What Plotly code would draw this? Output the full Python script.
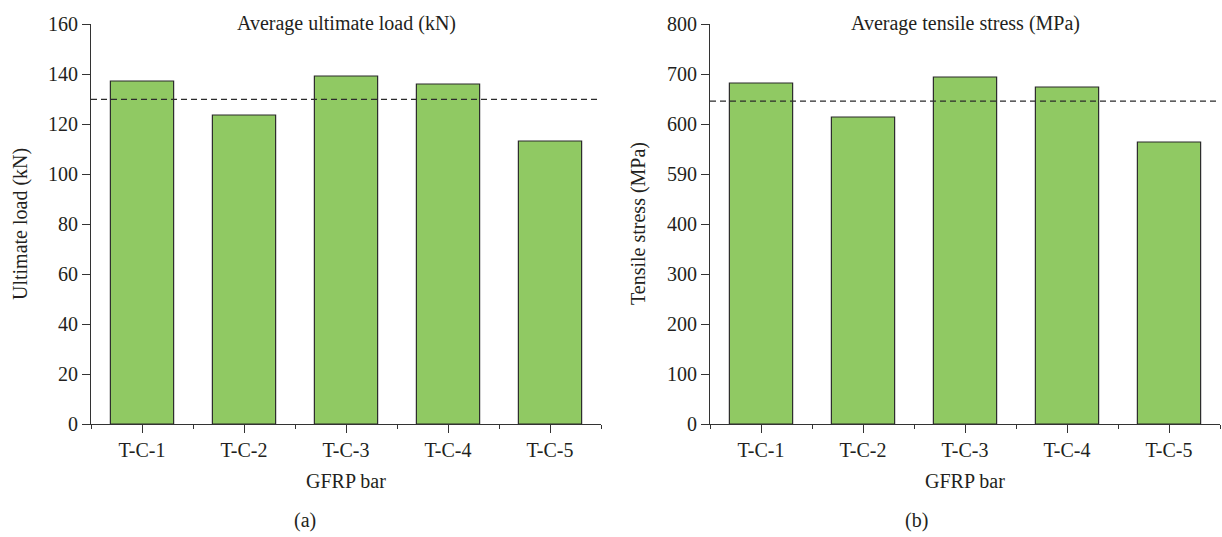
import plotly.graph_objects as go

categories = ["T-C-1", "T-C-2", "T-C-3", "T-C-4", "T-C-5"]
ultimate_load = [137.2, 123.6, 139.2, 136.0, 113.2]
tensile_stress = [682, 614, 694, 674, 564]

load_ticks = [0, 20, 40, 60, 80, 100, 120, 140, 160]
load_ticktext = ["0", "20", "40", "60", "80", "100", "120", "140", "160"]
stress_ticks = [0, 100, 200, 300, 400, 500, 600, 700, 800]
stress_ticktext = ["0", "100", "200", "300", "400", "590", "600", "700", "800"]

titles = ["Average ultimate load (kN)", "Average tensile stress (MPa)"]
ytitles = ["Ultimate load (kN)", "Tensile stress (MPa)"]
xtitle = "GFRP bar"
panel_labels = ["(a)", "(b)"]

W, H = 1222, 537
FONT = "Liberation Serif"
FS = 20
TXT = "#231f20"
BAR = "#90c963"

xpos = list(range(len(categories)))
fig = go.Figure()

panels = [
    dict(vals=ultimate_load, ticks=load_ticks, tt=load_ticktext, rng=[0, 160],
         px=(91, 601), ytx=20, lab=305),
    dict(vals=tensile_stress, ticks=stress_ticks, tt=stress_ticktext, rng=[0, 800],
         px=(710, 1220), ytx=638, lab=916),
]

ytop, ybot = 24, 424
ydom = [(H - ybot) / H, (H - ytop) / H]

for i, p in enumerate(panels):
    xa = "x" if i == 0 else "x2"
    ya = "y" if i == 0 else "y2"
    fig.add_trace(go.Bar(
        x=xpos, y=p["vals"], xaxis=xa, yaxis=ya, width=0.62,
        marker=dict(color=BAR, line=dict(color="#2b2b2b", width=1.2)),
        showlegend=False, hoverinfo="x+y",
    ))
    mean = sum(p["vals"]) / len(p["vals"])
    fig.add_shape(type="line", xref=f"{xa} domain", yref=ya, x0=0, x1=1,
                  y0=mean, y1=mean, line=dict(color="#2b2b2b", width=1.3, dash="6px,4px"))
    axkey = "xaxis" if i == 0 else "xaxis2"
    aykey = "yaxis" if i == 0 else "yaxis2"
    xdom = [p["px"][0] / W, p["px"][1] / W]
    fig.update_layout({
        axkey: dict(
            domain=xdom, anchor=ya, range=[-0.5, len(categories) - 0.5],
            tickmode="array", tickvals=xpos, ticktext=categories,
            ticks="outside", ticklen=8, tickcolor="#333", tickwidth=1,
            showline=True, linecolor="#333", linewidth=1.2,
            showgrid=False, zeroline=False, fixedrange=True, automargin=False,
            tickfont=dict(family=FONT, size=FS, color=TXT),
            minor=dict(tickmode="array",
                       tickvals=[x - 0.5 for x in xpos] + [len(categories) - 0.5],
                       ticks="outside", ticklen=4, tickcolor="#333", tickwidth=1),
        ),
        aykey: dict(
            domain=ydom, anchor=xa, range=p["rng"],
            tickmode="array", tickvals=p["ticks"], ticktext=p["tt"],
            ticks="outside", ticklen=8, tickcolor="#333", tickwidth=1,
            showline=True, linecolor="#333", linewidth=1.2,
            showgrid=False, zeroline=False, fixedrange=True, automargin=False,
            tickfont=dict(family=FONT, size=FS, color=TXT),
        ),
    })
    cx = (p["px"][0] + p["px"][1]) / 2 / W
    fig.add_annotation(text=titles[i], x=cx, y=(H - ytop) / H, xref="paper", yref="paper",
                       xanchor="center", yanchor="middle", showarrow=False,
                       font=dict(family=FONT, size=FS, color=TXT))
    fig.add_annotation(text=ytitles[i], x=p["ytx"] / W, y=(H - 224) / H, xref="paper", yref="paper",
                       xanchor="center", yanchor="middle", textangle=-90, showarrow=False,
                       font=dict(family=FONT, size=FS, color=TXT))
    fig.add_annotation(text=xtitle, x=cx, y=(H - 481) / H, xref="paper", yref="paper",
                       xanchor="center", yanchor="middle", showarrow=False,
                       font=dict(family=FONT, size=FS, color=TXT))
    fig.add_annotation(text=panel_labels[i], x=p["lab"] / W, y=(H - 520) / H, xref="paper", yref="paper",
                       xanchor="center", yanchor="middle", showarrow=False,
                       font=dict(family=FONT, size=FS, color=TXT))

fig.update_layout(
    width=W, height=H, margin=dict(l=0, r=0, t=0, b=0, autoexpand=False),
    paper_bgcolor="white", plot_bgcolor="white", bargap=0.38,
)

fig.write_html("out.html", config={"displayModeBar": False})
